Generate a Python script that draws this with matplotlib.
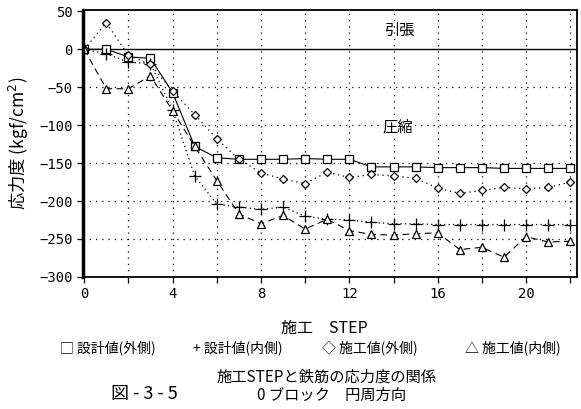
import numpy as np
import matplotlib
matplotlib.use("Agg")
import matplotlib.pyplot as plt

plt.rcParams['font.family'] = ['Noto Sans CJK JP', 'DejaVu Sans']

# construction step and stress (kgf/cm2)
step = np.arange(0, 23)
design_out = [0, 0, -10, -12, -57, -128, -143, -145, -145, -145, -144, -145, -145,
              -155, -155, -155, -156, -156, -156, -157, -157, -157, -157]
design_in = [0, -6, -17, -19, -80, -167, -204, -208, -211, -208, -220, -224, -225,
             -228, -230, -230, -231, -231, -231, -231, -231, -231, -231]
meas_out = [0, 35, -8, -20, -55, -86, -118, -145, -163, -171, -177, -162, -169,
            -165, -167, -170, -183, -190, -186, -182, -184, -182, -175]
meas_in = [0, -52, -52, -35, -81, -128, -173, -217, -230, -219, -237, -224, -239,
           -244, -245, -243, -242, -264, -261, -274, -247, -254, -253]

legend_items = ['□ 設計値(外側)', '+ 設計値(内側)', '◇ 施工値(外側)', '△ 施工値(内側)']
legend_x = [0.103, 0.332, 0.554, 0.800]

fig = plt.figure(figsize=(5.81, 4.09), dpi=100)
ax = fig.add_axes([0.143, 0.323, 0.85, 0.653])

for gx in range(2, 23, 2):
    ax.axvline(gx, color='k', lw=0.9, ls=(0, (1, 4)))
for gy in [-50, -100, -150, -200, -250]:
    ax.axhline(gy, color='k', lw=0.9, ls=(0, (1, 4)))
ax.axhline(0, color='k', lw=1.0)

ax.plot(step, design_out, color='k', lw=0.8, ls='-', marker='s', ms=6,
        mfc='white', mec='k', mew=0.9)
ax.plot(step, design_in, color='k', lw=0.9, ls=(0, (1, 2.5)), marker='+', ms=8, mew=0.9)
ax.plot(step, meas_out, color='k', lw=0.9, ls=(0, (1, 3)), marker='D', ms=4.5,
        mfc='white', mec='k', mew=0.9)
ax.plot(step, meas_in, color='k', lw=0.8, ls=(0, (6, 4)), marker='^', ms=6,
        mfc='white', mec='k', mew=0.9)

ax.text(14.3, 25, '引張', fontsize=11, ha='center', va='center')
ax.text(14.2, -103, '圧縮', fontsize=11, ha='center', va='center',
        bbox=dict(facecolor='white', edgecolor='none', pad=1))

ax.set_xlim(-0.05, 22.3)
ax.set_ylim(-300, 52)
ax.set_xticks(range(0, 23, 2))
ax.set_xticklabels([str(v) if v % 4 == 0 else '' for v in range(0, 23, 2)])
ax.set_yticks(range(-300, 51, 50))
ax.tick_params(direction='out', length=4, width=0.9, labelsize=10)
for lab in ax.get_xticklabels() + ax.get_yticklabels():
    lab.set_family('DejaVu Sans Mono')
ax.spines['left'].set_linewidth(2.5)
for s in ['top', 'right', 'bottom']:
    ax.spines[s].set_linewidth(1.3)

ax.set_ylabel('応力度 (kgf/cm$^2$)', fontsize=12.5, labelpad=6)

fig.text(0.558, 0.198, '施工　STEP', fontsize=11.5, ha='center', va='center')
for lx, item in zip(legend_x, legend_items):
    fig.text(lx, 0.149, item, fontsize=10, ha='left', va='center')
fig.text(0.562, 0.078, '施工STEPと鉄筋の応力度の関係', fontsize=11, ha='center', va='center')
fig.text(0.571, 0.034, '0 ブロック　円周方向', fontsize=11, ha='center', va='center')
fig.text(0.248, 0.036, '図 - 3 - 5', fontsize=13, ha='center', va='center')

fig.savefig('out.png', dpi=100)
